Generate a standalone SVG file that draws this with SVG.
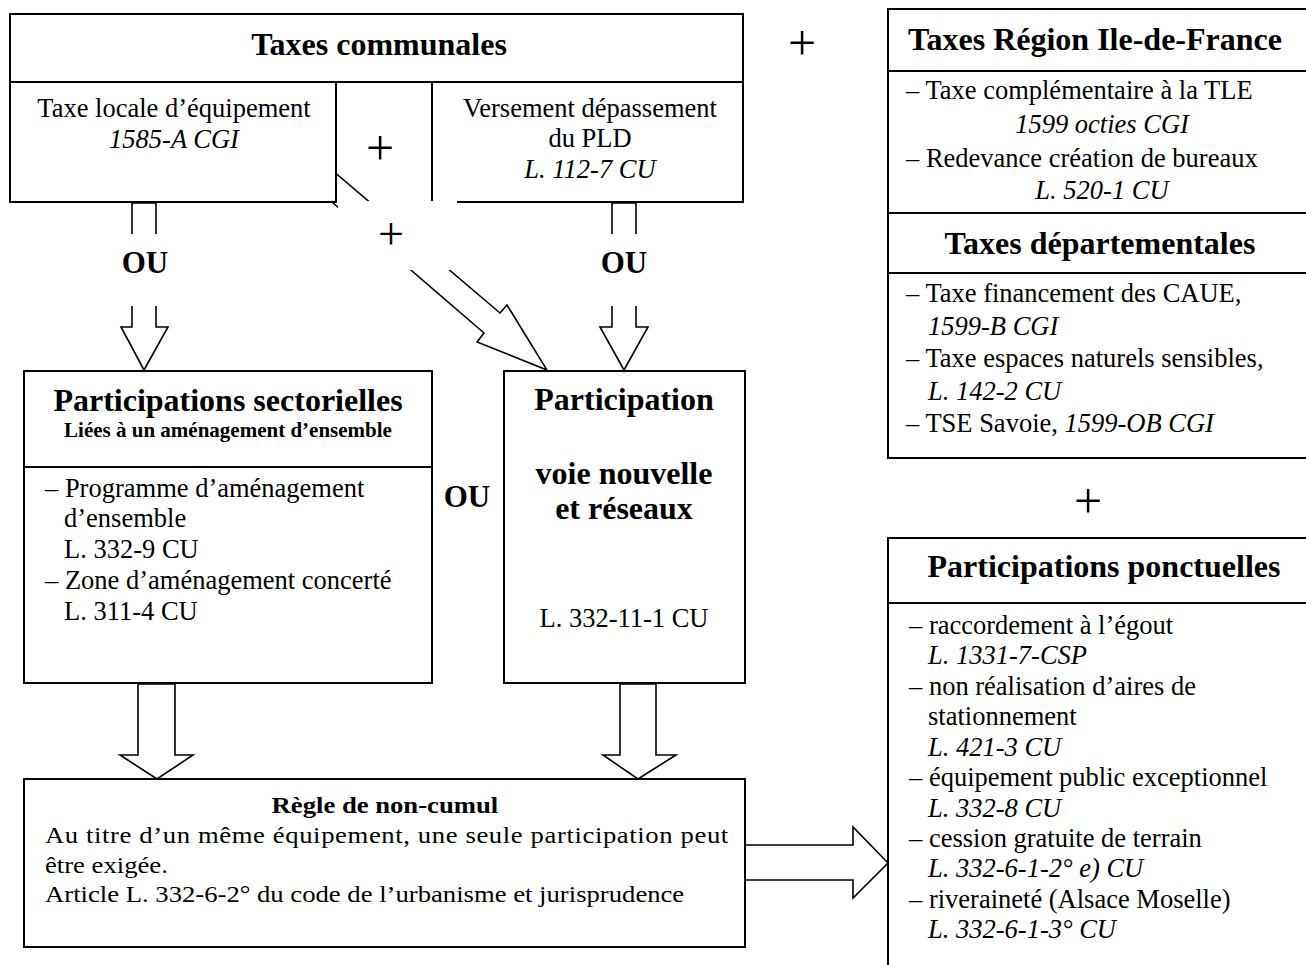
<svg xmlns="http://www.w3.org/2000/svg" width="1306" height="965" viewBox="0 0 1306 965">
<style>
 .box{fill:#fff;stroke:#000;stroke-width:2}
 .ln{stroke:#000;stroke-width:2;fill:none}
 .arr{fill:#fff;stroke:#000;stroke-width:1.6;stroke-linejoin:miter}
 .cover{fill:#fff;stroke:none}
 text{font-family:"Liberation Serif","Times New Roman",serif;fill:#000}
 .t{font-size:26.5px}
 .i{font-size:26.5px;font-style:italic}
 .h{font-size:32px;font-weight:bold}
 .sub{font-size:21px;font-weight:bold}
 .ou{font-size:31px;font-weight:bold}
 .plus{font-size:50px}
 .c{text-anchor:middle}
 .r{font-size:23px}
 .rb{font-size:23px;font-weight:bold}
</style>
<rect width="1306" height="965" fill="#fff"/>

<g id="taxes-communales">
 <rect class="box" x="10" y="14" width="733" height="188"/>
 <line class="ln" x1="10" y1="82" x2="743" y2="82"/>
 <line class="ln" x1="432" y1="82" x2="432" y2="202"/>
 <text class="h c" x="379" y="55">Taxes communales</text>
</g>

<g id="connectors">
 <polygon class="arr" points="289,165 484,333 477,342 547,370 507,305 500,313 326,165"/>
 <polygon class="arr" points="132,203 132,327 121,327 144,370 168,327 156,327 156,203"/>
 <polygon class="arr" points="612,203 612,327 600,327 624,370 648,327 636,327 636,203"/>
 <polygon class="arr" points="138,684 138,755 120,755 157,779 193,755 175,755 175,684"/>
 <polygon class="arr" points="620,684 620,755 603,755 638,779 676,755 656,755 656,684"/>
 <polygon class="arr" points="745,845 853,845 853,827 888,863 853,898 853,880 745,880"/>
</g>

<g id="taxe-locale">
 <rect class="box" x="10" y="82" width="326" height="120"/>
 <text class="t c" x="174" y="117">Taxe locale d’équipement</text>
 <text class="i c" x="174" y="148">1585-A CGI</text>
</g>

<g id="versement">
 <text class="t c" x="590" y="117">Versement dépassement</text>
 <text class="t c" x="590" y="147">du PLD</text>
 <text class="i c" x="590" y="178">L. 112-7 CU</text>
</g>

<g id="taxes-region">
 <rect class="box" x="888" y="9" width="430" height="204"/>
 <line class="ln" x1="888" y1="71" x2="1318" y2="71"/>
 <text class="h c" x="1095" y="50">Taxes Région Ile-de-France</text>
 <text class="t" x="906" y="99">– Taxe complémentaire à la TLE</text>
 <text class="i c" x="1102" y="133">1599 octies CGI</text>
 <text class="t" x="906" y="167">– Redevance création de bureaux</text>
 <text class="i c" x="1102" y="199">L. 520-1 CU</text>
</g>

<g id="taxes-departementales">
 <rect class="box" x="888" y="213" width="430" height="245"/>
 <line class="ln" x1="888" y1="273" x2="1318" y2="273"/>
 <text class="h c" x="1100" y="254">Taxes départementales</text>
 <text class="t" x="906" y="302">– Taxe financement des CAUE,</text>
 <text class="i" x="928" y="335">1599-B CGI</text>
 <text class="t" x="906" y="367">– Taxe espaces naturels sensibles,</text>
 <text class="i" x="928" y="400">L. 142-2 CU</text>
 <text class="t" x="906" y="432">– TSE Savoie, <tspan font-style="italic">1599-OB CGI</tspan></text>
</g>

<g id="participations-sectorielles">
 <rect class="box" x="24" y="371" width="408" height="312"/>
 <line class="ln" x1="24" y1="467" x2="432" y2="467"/>
 <text class="h c" x="228" y="411">Participations sectorielles</text>
 <text class="sub c" x="228" y="437">Liées à un aménagement d’ensemble</text>
 <text class="t" x="45" y="497">– Programme d’aménagement</text>
 <text class="t" x="64" y="527">d’ensemble</text>
 <text class="t" x="64" y="558">L. 332-9 CU</text>
 <text class="t" x="45" y="589">– Zone d’aménagement concerté</text>
 <text class="t" x="64" y="620">L. 311-4 CU</text>
</g>

<g id="participation-voie">
 <rect class="box" x="504" y="371" width="241" height="312"/>
 <text class="h c" x="624" y="410">Participation</text>
 <text class="h c" x="624" y="484">voie nouvelle</text>
 <text class="h c" x="624" y="519">et réseaux</text>
 <text class="t c" x="624" y="627">L. 332-11-1 CU</text>
</g>

<g id="regle-non-cumul">
 <rect class="box" x="24" y="779" width="721" height="168"/>
 <g transform="translate(45,0) scale(1.16,1)">
  <text class="rb c" x="293" y="813">Règle de non-cumul</text>
  <text class="r" x="0" y="843" textLength="589" lengthAdjust="spacing">Au titre d’un même équipement, une seule participation peut</text>
  <text class="r" x="0" y="873">être exigée.</text>
  <text class="r" x="0" y="902">Article L. 332-6-2° du code de l’urbanisme et jurisprudence</text>
 </g>
</g>

<g id="participations-ponctuelles">
 <rect class="box" x="888" y="538" width="430" height="440"/>
 <line class="ln" x1="888" y1="603" x2="1318" y2="603"/>
 <text class="h c" x="1104" y="577">Participations ponctuelles</text>
 <text class="t" x="909" y="634">– raccordement à l’égout</text>
 <text class="i" x="928" y="664">L. 1331-7-CSP</text>
 <text class="t" x="909" y="695">– non réalisation d’aires de</text>
 <text class="t" x="928" y="725">stationnement</text>
 <text class="i" x="928" y="756">L. 421-3 CU</text>
 <text class="t" x="909" y="786">– équipement public exceptionnel</text>
 <text class="i" x="928" y="817">L. 332-8 CU</text>
 <text class="t" x="909" y="847">– cession gratuite de terrain</text>
 <text class="i" x="928" y="877">L. 332-6-1-2° e) CU</text>
 <text class="t" x="909" y="908">– riveraineté (Alsace Moselle)</text>
 <text class="i" x="928" y="938">L. 332-6-1-3° CU</text>
</g>

<g id="labels">
 <rect class="cover" x="338" y="201" width="119" height="69"/>
 <rect class="cover" x="110" y="234" width="70" height="72"/>
 <rect class="cover" x="590" y="234" width="70" height="72"/>
 <text class="plus c" x="380" y="165">+</text>
 <text class="plus c" x="391" y="249" style="font-size:46px">+</text>
 <text class="plus c" x="802" y="60">+</text>
 <text class="plus c" x="1088" y="518">+</text>
 <text class="ou c" x="145" y="273">OU</text>
 <text class="ou c" x="624" y="273">OU</text>
 <text class="ou c" x="467" y="507">OU</text>
</g>
</svg>
